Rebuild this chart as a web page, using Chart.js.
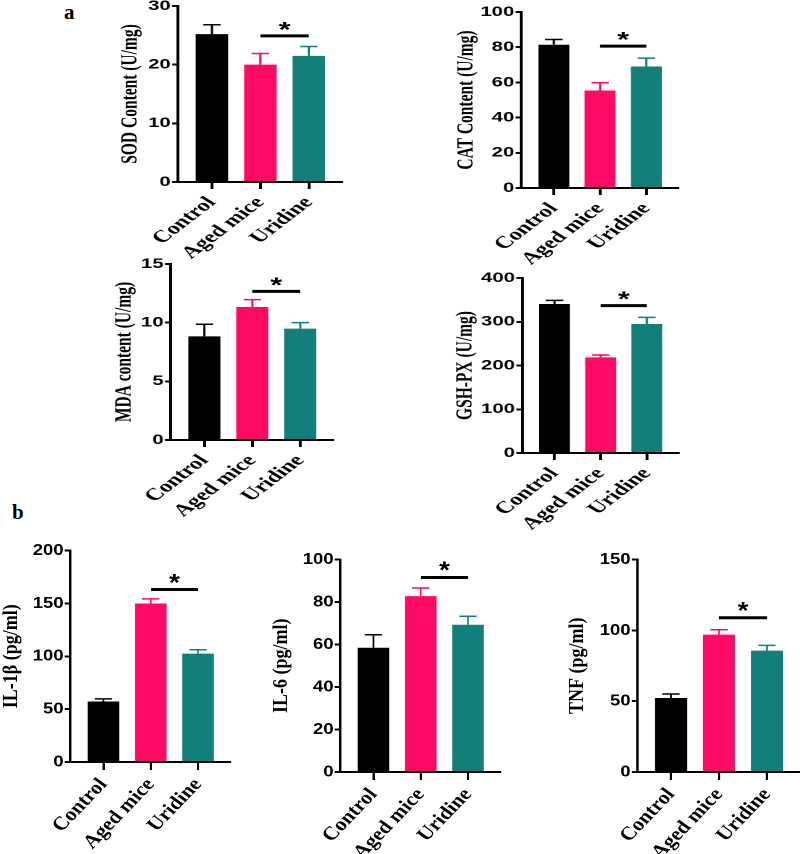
<!DOCTYPE html>
<html>
<head>
<meta charset="utf-8">
<script src="https://cdn.jsdelivr.net/npm/chart.js@4.4.1/dist/chart.umd.min.js"></script>
<style>
  body { margin: 0; background: #fff; }
  #page { position: relative; width: 800px; height: 854px; overflow: hidden; }
  .panel { position: absolute; transform-origin: 0 0; }
  .tag { position: absolute; font: bold 21px "Liberation Serif", serif; color: #000; }
</style>
</head>
<body>
<div id="page">
  <div class="tag" style="left:64px;top:0px">a</div>
  <div class="tag" style="left:12px;top:500px">b</div>
</div>
<script>
const groups = ['Control', 'Aged mice', 'Uridine'];
const barColors = ['#000000', '#fd0a64', '#127f7b'];

// panel a
const sodMean = [25.2, 20.0, 21.5];
const sodErr = [1.6, 1.9, 1.6];
const sodTicks = [0, 10, 20, 30];
const sodSig = 24.9;

const catMean = [81.4, 55.4, 69.0];
const catErr = [3.0, 4.4, 4.8];
const catTicks = [0, 20, 40, 60, 80, 100];
const catSig = 80.6;

const mdaMean = [8.83, 11.33, 9.49];
const mdaErr = [1.03, 0.63, 0.51];
const mdaTicks = [0, 5, 10, 15];
const mdaSig = 12.67;

const gshMean = [340.6, 218.5, 294.9];
const gshErr = [8.3, 5.5, 15.1];
const gshTicks = [0, 100, 200, 300, 400];
const gshSig = 337;

// panel b
const il1bMean = [57.2, 150.0, 102.5];
const il1bErr = [2.5, 4.3, 3.7];
const il1bTicks = [0, 50, 100, 150, 200];
const il1bSig = 163.2;

const il6Mean = [58.5, 82.8, 69.3];
const il6Err = [6.1, 3.8, 4.0];
const il6Ticks = [0, 20, 40, 60, 80, 100];
const il6Sig = 91.6;

const tnfMean = [52.3, 97.0, 85.7];
const tnfErr = [2.8, 3.5, 3.7];
const tnfTicks = [0, 50, 100, 150];
const tnfSig = 108.9;

// the source figure is stretched sideways, so each chart gets a scaleX
const panelA = {S: 1.45, tickFont: 14, titleFont: 15.5, labelFont: 17, rot: 48, xTick: 7, yTick: 4, xh: 90, cap: 12, gap: 11.5, starFont: 21};
const panelB = {S: 1.15, tickFont: 16, titleFont: 18, labelFont: 19, rot: 50, xTick: 8, yTick: 5, xh: 100, cap: 15, gap: 13, starFont: 24};

const charts = [
  {title: 'SOD Content (U/mg)', mean: sodMean, err: sodErr, ticks: sodTicks, sig: sodSig, box: [177.5, 340.7, 6, 181.5], titleOff: 47.5, p: panelA},
  {title: 'CAT Content (U/mg)', mean: catMean, err: catErr, ticks: catTicks, sig: catSig, box: [521.7, 678, 11.7, 187.3], titleOff: 55, p: panelA},
  {title: 'MDA content (U/mg)', mean: mdaMean, err: mdaErr, ticks: mdaTicks, sig: mdaSig, box: [171, 333, 264, 439.5], titleOff: 46.3, p: panelA},
  {title: 'GSH-PX (U/mg)', mean: gshMean, err: gshErr, ticks: gshTicks, sig: gshSig, box: [521.7, 677, 278.3, 453.3], titleOff: 56.7, p: panelA},
  {title: 'IL-1β (pg/ml)', mean: il1bMean, err: il1bErr, ticks: il1bTicks, sig: il1bSig, box: [70, 230, 551, 763.3], titleOff: 59, p: panelB},
  {title: 'IL-6 (pg/ml)', mean: il6Mean, err: il6Err, ticks: il6Ticks, sig: il6Sig, box: [340.7, 500.7, 559.3, 772], titleOff: 59, p: panelB},
  {title: 'TNF (pg/ml)', mean: tnfMean, err: tnfErr, ticks: tnfTicks, sig: tnfSig, box: [637.3, 799, 559.3, 772], titleOff: 60, p: panelB},
];

// error bars (up only) and the * bracket between aged mice and uridine
function marks(c) {
  return {
    id: 'marks',
    afterDatasetsDraw(chart) {
      const ctx = chart.ctx;
      const y = chart.scales.y;
      const bars = chart.getDatasetMeta(0).data;
      ctx.save();
      bars.forEach((bar, i) => {
        const top = y.getPixelForValue(c.mean[i] + c.err[i]);
        ctx.strokeStyle = barColors[i];
        ctx.lineWidth = 1.5;
        ctx.beginPath();
        ctx.moveTo(bar.x, bar.y);
        ctx.lineTo(bar.x, top);
        ctx.moveTo(bar.x - c.p.cap / 2, top);
        ctx.lineTo(bar.x + c.p.cap / 2, top);
        ctx.stroke();
      });
      const sy = y.getPixelForValue(c.sig);
      const x1 = bars[1].x, x2 = bars[2].x;
      ctx.strokeStyle = '#000';
      ctx.lineWidth = 3;
      ctx.beginPath();
      ctx.moveTo(x1, sy);
      ctx.lineTo(x2, sy);
      ctx.stroke();
      ctx.fillStyle = '#000';
      ctx.font = 'bold ' + c.p.starFont + 'px "Liberation Sans"';
      ctx.textAlign = 'center';
      ctx.textBaseline = 'alphabetic';
      ctx.fillText('*', (x1 + x2) / 2, sy - c.p.gap + 0.575 * c.p.starFont);
      ctx.restore();
    }
  };
}

const page = document.getElementById('page');
const padT = 10, padR = 4;

charts.forEach(c => {
  const p = c.p;
  const [L, R, T, B] = c.box;
  const yw = c.titleOff / p.S + p.titleFont * 0.6;
  const wrap = document.createElement('div');
  wrap.className = 'panel';
  wrap.style.transform = 'scaleX(' + p.S + ')';
  const canvas = document.createElement('canvas');
  canvas.width = Math.round(yw + (R - L) / p.S + padR);
  canvas.height = Math.round(padT + (B - T) + p.xh);
  wrap.appendChild(canvas);
  page.appendChild(wrap);

  const chart = new Chart(canvas, {
    type: 'bar',
    data: {
      datasets: [{
        data: c.mean.map((v, i) => ({x: i, y: v})),
        backgroundColor: barColors,
        borderWidth: 0,
        barPercentage: 0.67,
        categoryPercentage: 1
      }]
    },
    options: {
      responsive: false,
      animation: false,
      devicePixelRatio: 2,
      layout: {padding: {top: padT, right: padR, left: 0, bottom: 0}},
      plugins: {legend: {display: false}, tooltip: {enabled: false}},
      scales: {
        x: {
          type: 'linear',
          min: -0.7,
          max: 2.68,
          offset: false,
          z: 1,
          afterBuildTicks: s => { s.ticks = groups.map((g, i) => ({value: i})); },
          afterFit: s => { s.height = p.xh; },
          ticks: {
            autoSkip: false,
            minRotation: p.rot,
            maxRotation: p.rot,
            padding: 4,
            color: '#000',
            font: {family: 'Liberation Serif', weight: 'bold', size: p.labelFont},
            callback: v => groups[v]
          },
          grid: {offset: false, drawOnChartArea: false, tickLength: p.xTick, tickColor: '#000', tickWidth: 2, lineWidth: 2},
          border: {color: '#000', width: 2}
        },
        y: {
          min: 0,
          max: c.ticks[c.ticks.length - 1],
          z: 1,
          afterFit: s => { s.width = yw; },
          ticks: {
            stepSize: c.ticks[1] - c.ticks[0],
            padding: 1,
            color: '#000',
            font: {family: 'Liberation Sans', weight: 'bold', size: p.tickFont}
          },
          grid: {drawOnChartArea: false, tickLength: p.yTick, tickColor: '#000', tickWidth: 2, lineWidth: 2},
          border: {color: '#000', width: 2},
          title: {
            display: true,
            text: c.title,
            color: '#000',
            padding: 0,
            font: {family: 'Liberation Serif', weight: 'bold', size: p.titleFont}
          }
        }
      }
    },
    plugins: [marks(c)]
  });

  const ca = chart.chartArea;
  wrap.style.left = (L - ca.left * p.S) + 'px';
  wrap.style.top = (T - ca.top) + 'px';
});
</script>
</body>
</html>
